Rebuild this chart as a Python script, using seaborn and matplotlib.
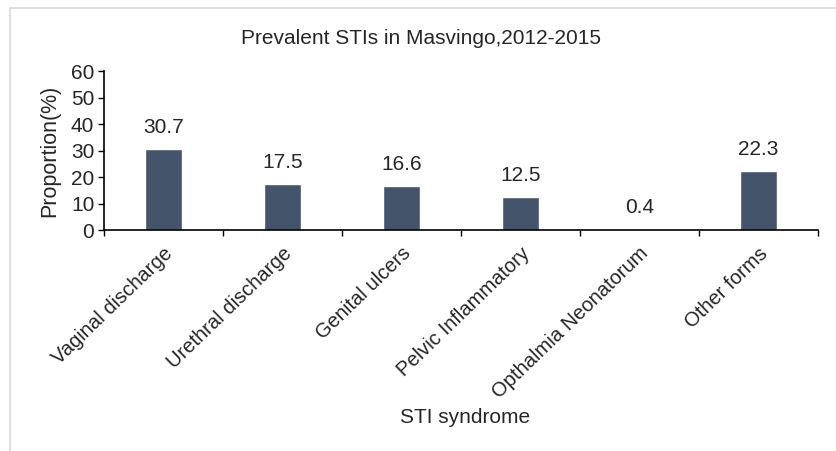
import matplotlib
matplotlib.use("Agg")
import matplotlib.pyplot as plt
import seaborn as sns
import pandas as pd
from matplotlib.patches import Rectangle

syndromes = ["Vaginal discharge", "Urethral discharge", "Genital ulcers",
             "Pelvic Inflammatory", "Opthalmia Neonatorum", "Other forms"]
proportions = [30.7, 17.5, 16.6, 12.5, 0.4, 22.3]
value_labels = ["30.7", "17.5", "16.6", "12.5", "0.4", "22.3"]

df = pd.DataFrame({"syndrome": syndromes, "proportion": proportions})

sns.set_style("ticks")
plt.rcParams["font.family"] = ["Liberation Sans", "DejaVu Sans"]

fig = plt.figure(figsize=(8.36, 4.51), dpi=100)
ax = fig.add_axes([0.1244, 0.49, 0.8536, 0.3525])

sns.barplot(data=df, x="syndrome", y="proportion", order=syndromes,
            color="#44546A", saturation=1, width=0.31, ax=ax)

# value labels above bars
for i, (v, lab) in enumerate(zip(proportions, value_labels)):
    ax.text(i, v + 4.5, lab, ha="center", va="bottom", fontsize=15)

ax.set_xlim(-0.5, len(syndromes) - 0.5)
ax.set_ylim(0, 60)
ax.set_yticks(range(0, 61, 10))
ax.tick_params(axis="y", labelsize=15, length=4, width=1, color="black", pad=3)
ax.set_xticks(range(len(syndromes)))
ax.set_xticklabels(syndromes, rotation=44, ha="right", rotation_mode="anchor",
                   fontsize=14.5)
ax.tick_params(axis="x", which="major", length=0, pad=10)
ax.set_xticks([i - 0.5 for i in range(len(syndromes) + 1)], minor=True)
ax.tick_params(axis="x", which="minor", length=4, width=1, color="black")

for side in ["top", "right"]:
    ax.spines[side].set_visible(False)
for side in ["left", "bottom"]:
    ax.spines[side].set_color("black")
    ax.spines[side].set_linewidth(1.2)

ax.set_ylabel("Proportion(%)", fontsize=15.5, labelpad=8)
ax.set_xlabel("STI syndrome", fontsize=15)
ax.xaxis.set_label_coords(0.506, -1.12)
fig.text(421 / 836, 1 - 38 / 451, "Prevalent STIs in Masvingo,2012-2015",
         ha="center", va="center", fontsize=15)

fig.patches.append(Rectangle((10 / 836, -0.1), 1.2, 1.1 - 8 / 451, transform=fig.transFigure,
                             fill=False, edgecolor="#d9d9d9", linewidth=1.2))

fig.savefig("out.png", dpi=100)
